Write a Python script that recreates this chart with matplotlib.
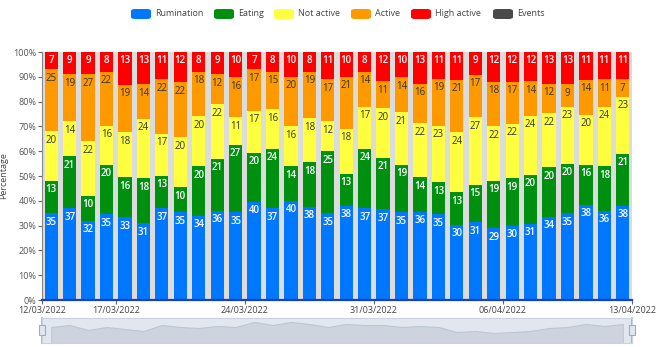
import matplotlib
matplotlib.use("Agg")
import matplotlib.pyplot as plt
from matplotlib.patches import FancyBboxPatch, Rectangle
import numpy as np

plt.rcParams['font.family'] = ['Open Sans', 'DejaVu Sans']

series_names = ["Rumination", "Eating", "Not active", "Active", "High active", "Events"]
colors = ["#0077ff", "#009010", "#ffff40", "#ff9900", "#ff0000", "#4a4a4a"]
label_colors = ["white", "white", "#333333", "#333333", "white"]

rumination = [35, 37, 32, 35, 33, 31, 37, 35, 34, 36, 35, 40, 37, 40, 38, 35,
              38, 37, 37, 35, 36, 35, 30, 31, 29, 30, 31, 34, 35, 38, 36, 38]
eating = [13, 21, 10, 20, 16, 18, 13, 10, 20, 21, 27, 20, 24, 14, 18, 25,
          13, 24, 21, 19, 14, 13, 13, 15, 19, 19, 20, 20, 20, 16, 18, 21]
not_active = [20, 14, 22, 16, 18, 24, 17, 20, 20, 22, 11, 17, 16, 16, 18, 12,
              18, 17, 20, 21, 22, 23, 24, 27, 22, 22, 24, 22, 23, 20, 24, 23]
active = [25, 19, 27, 22, 19, 14, 22, 22, 18, 12, 16, 17, 15, 20, 19, 17,
          21, 14, 11, 14, 16, 19, 21, 17, 18, 17, 14, 12, 9, 14, 11, 7]
high_active = [7, 9, 9, 8, 13, 13, 11, 12, 8, 9, 10, 7, 8, 10, 8, 11,
               10, 8, 12, 10, 13, 11, 11, 9, 12, 12, 12, 13, 13, 11, 11, 11]

tick_positions = [0, 4, 11, 18, 25, 32]
tick_labels = ["12/03/2022", "17/03/2022", "24/03/2022", "31/03/2022", "06/04/2022", "13/04/2022"]

data = [rumination, eating, not_active, active, high_active]
n = len(rumination)
x = np.arange(n) + 0.5

W, H = 668, 347
fig = plt.figure(figsize=(W / 100, H / 100), dpi=100)
ax = fig.add_axes([42 / W, (H - 300) / H, 590 / W, 248 / H])
ax.set_facecolor("#dcdcdc")

tot = np.array([sum(d[i] for d in data) for i in range(n)], dtype=float)
bottom = np.zeros(n)
for vals, col, lc in zip(data, colors, label_colors):
    vals = np.array(vals, dtype=float)
    pct = vals / tot * 100
    ax.bar(x, pct, bottom=bottom, width=0.72, color=col, linewidth=0, zorder=2)
    for xi, b, p, v in zip(x, bottom, pct, vals):
        ax.annotate(f"{int(v)}", (xi, b + p), xytext=(0, -2.5), textcoords="offset points",
                    ha="center", va="top", fontsize=7, color=lc, zorder=3,
                    fontweight="semibold" if lc == "white" else "normal")
    bottom = bottom + pct

ax.set_xlim(0, n)
ax.set_ylim(0, 100)
ax.set_yticks(np.arange(0, 101, 10))
ax.set_yticklabels([f"{v}%" for v in range(0, 101, 10)])
ax.set_xticks(tick_positions)
ax.set_xticklabels(tick_labels)
ax.tick_params(axis="both", labelsize=6.5, colors="#666666", length=3, width=0.8, pad=1)
ax.tick_params(axis="x", labelcolor="#444444")
ax.tick_params(axis="y", labelcolor="#555555")
ax.set_ylabel("Percentage", fontsize=6.5, color="#444444")
ax.yaxis.set_label_coords(-34 / 590, 0.5)
for s in ["top", "right"]:
    ax.spines[s].set_visible(False)
ax.spines["left"].set_color("#888888")
ax.spines["left"].set_linewidth(0.8)
ax.spines["bottom"].set_color("#1a3fc4")
ax.spines["bottom"].set_linewidth(1.6)

# Legend
lx_positions = [131, 214, 274, 351, 411, 493]
leg_y = H - 14
for name, col, lx in zip(series_names, colors, lx_positions):
    px = lx / W
    fig.patches.append(FancyBboxPatch((px, (leg_y - 5) / H), 20 / W, 10 / H,
                                      boxstyle="round,pad=0,rounding_size=0.006",
                                      transform=fig.transFigure, facecolor=col,
                                      edgecolor="none"))
    fig.text(px + 24 / W, leg_y / H, name, fontsize=6.5, color="#444444",
             va="center", ha="left")

# Slider (data zoom)
sax = fig.add_axes([42 / W, (H - 343) / H, 590 / W, 25 / H])
sax.set_facecolor("#e2e7ef")
sax.fill_between(x, rumination, 0, color="#cdd4de", linewidth=0.8, edgecolor="#bcc7d5")
sax.set_xlim(0, n)
sax.set_ylim(19, 44)
sax.set_xticks([])
sax.set_yticks([])
for s in sax.spines.values():
    s.set_color("#c8d2e0")
    s.set_linewidth(0.8)
for hx in [0, n]:
    sax.plot([hx, hx], [19, 44], color="#8fb0d6", lw=1.2, clip_on=False)
    sax.add_patch(Rectangle((hx - 0.15, 27), 0.3, 10, facecolor="#e2e7ef",
                            edgecolor="#8fb0d6", lw=0.8, clip_on=False, zorder=5))

fig.savefig("out.png", dpi=100, facecolor="white")
